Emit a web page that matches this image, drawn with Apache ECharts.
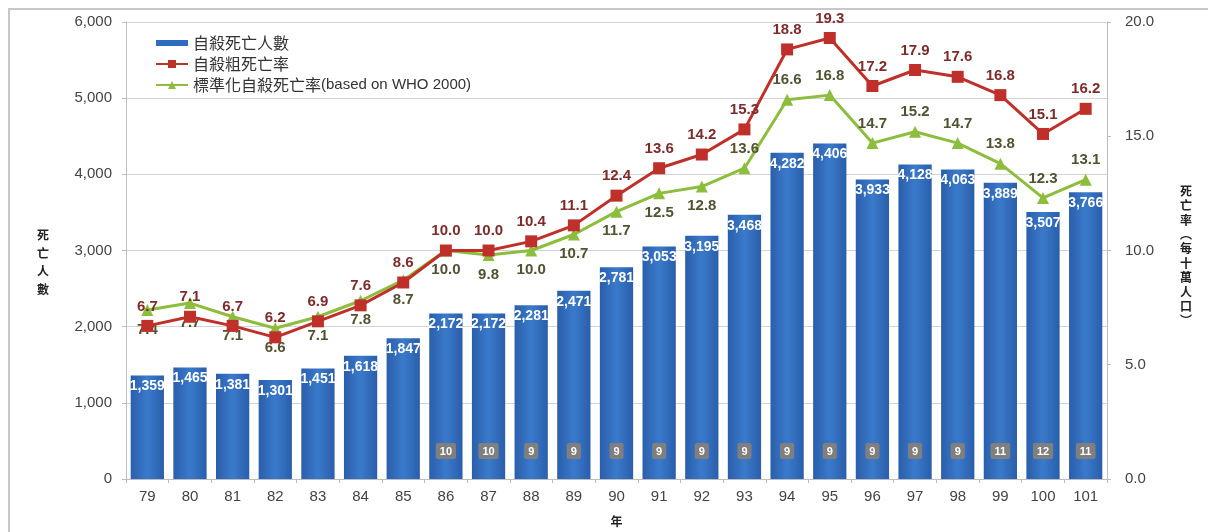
<!DOCTYPE html>
<html><head><meta charset="utf-8">
<script src="https://cdn.jsdelivr.net/npm/echarts@6/dist/echarts.min.js"></script>
<style>html,body{margin:0;padding:0;background:#fff}#c{width:1208px;height:532px}</style>
</head><body><div id="c"></div>
<script>
const years = ['79','80','81','82','83','84','85','86','87','88','89','90','91','92','93','94','95','96','97','98','99','100','101'];
const deaths = [1359,1465,1381,1301,1451,1618,1847,2172,2172,2281,2471,2781,3053,3195,3468,4282,4406,3933,4128,4063,3889,3507,3766];
const crudeRate = [6.7,7.1,6.7,6.2,6.9,7.6,8.6,10.0,10.0,10.4,11.1,12.4,13.6,14.2,15.3,18.8,19.3,17.2,17.9,17.6,16.8,15.1,16.2];
const stdRate = [7.4,7.7,7.1,6.6,7.1,7.8,8.7,10.0,9.8,10.0,10.7,11.7,12.5,12.8,13.6,16.6,16.8,14.7,15.2,14.7,13.8,12.3,13.1];
const ranks = [null,null,null,null,null,null,null,10,10,9,9,9,9,9,9,9,9,9,9,9,11,12,11];
const leftTicks = [0,1000,2000,3000,4000,5000,6000];
const rightTicks = [0,5,10,15,20];

const names = ['自殺死亡人數','自殺粗死亡率','標準化自殺死亡率(based on WHO 2000)'];
const FONT = '"Liberation Sans", Arial, sans-serif';
const CJK = '"Noto Sans CJK TC", sans-serif';

const chart = echarts.init(document.getElementById('c'), null, {renderer:'canvas'});
const barColor = {type:'linear',x:0,y:0,x2:1,y2:0,colorStops:[
  {offset:0,color:'#2a5eab'},{offset:0.5,color:'#3a7acb'},{offset:1,color:'#2a5eab'}]};

chart.setOption({
  animation:false,
  backgroundColor:'#fff',
  graphic:[
    {type:'rect',shape:{x:9,y:9,width:1260,height:560},style:{fill:'none',stroke:'#c8c8c8',lineWidth:2},silent:true,z:-1},
    {type:'text',left:37,top:226,style:{text:'死\n亡\n人\n數',font:'bold 12px '+CJK,fill:'#222',lineHeight:18}},
    {type:'text',left:1180,top:184,style:{text:'死\n亡\n率\n︵\n每\n十\n萬\n人\n口\n︶',font:'bold 12px '+CJK,fill:'#222',lineHeight:14.4}}
  ],
  legend:{
    orient:'vertical',left:150,top:30,itemGap:5,itemWidth:32,itemHeight:10,
    data:[{name:names[0],icon:'path://M0,0H32V6H0Z',itemStyle:{color:'#2f6cc0'}},{name:names[1]},{name:names[2]}],
    formatter:n=>{
      const i=n.indexOf('(');
      return i<0?'{c|'+n+'}':'{c|'+n.slice(0,i)+'}{l|'+n.slice(i)+'}';
    },
    textStyle:{color:'#333',rich:{
      c:{fontFamily:CJK,fontSize:16,color:'#333'},
      l:{fontFamily:FONT,fontSize:15,color:'#333'}}}
  },
  grid:{left:126,right:101,top:22,bottom:51},
  xAxis:{
    type:'category',data:years,boundaryGap:true,
    name:'年',nameLocation:'middle',nameGap:36,
    nameTextStyle:{fontFamily:CJK,fontSize:12,fontWeight:'bold',color:'#222'},
    axisLine:{lineStyle:{color:'#bdbdbd'}},
    axisTick:{show:true,length:4,lineStyle:{color:'#bdbdbd'}},
    axisLabel:{fontFamily:FONT,fontSize:15,color:'#444',margin:10}
  },
  yAxis:[{
    type:'value',min:leftTicks[0],max:leftTicks[leftTicks.length-1],interval:1000,
    axisLine:{show:true,lineStyle:{color:'#bdbdbd'}},
    axisTick:{show:true,length:4,lineStyle:{color:'#bdbdbd'}},
    splitLine:{lineStyle:{color:'#d4d4d4',width:1}},
    axisLabel:{fontFamily:FONT,fontSize:15,color:'#444',margin:14,
      formatter:v=>v.toLocaleString('en-US')}
  },{
    type:'value',min:rightTicks[0],max:rightTicks[rightTicks.length-1],interval:5,
    axisLine:{show:true,lineStyle:{color:'#bdbdbd'}},
    axisTick:{show:true,length:4,lineStyle:{color:'#bdbdbd'}},
    splitLine:{show:false},
    axisLabel:{fontFamily:FONT,fontSize:15,color:'#444',margin:18,formatter:v=>v.toFixed(1)}
  }],
  series:[
    {name:names[0],type:'bar',data:deaths,barCategoryGap:'22%',barGap:'-100%',
      itemStyle:{color:barColor},
      label:{show:true,position:'insideTop',distance:4,color:'#fff',fontFamily:FONT,fontWeight:'bold',fontSize:14,
        formatter:p=>p.value.toLocaleString('en-US')},z:2},
    {name:'rank',type:'bar',data:deaths.map((d,i)=>ranks[i]==null?'-':d),barCategoryGap:'22%',barGap:'-100%',
      itemStyle:{color:'rgba(0,0,0,0)'},
      label:{show:true,position:'insideBottom',distance:20,color:'#fff',fontFamily:FONT,fontWeight:'bold',fontSize:11,
        backgroundColor:'#7f7f7f',borderRadius:2,padding:[3,4,2,4],
        formatter:p=>String(ranks[p.dataIndex])},z:3},
    {name:names[1],type:'line',yAxisIndex:1,data:crudeRate,
      symbol:'rect',symbolSize:12,lineStyle:{color:'#c0302b',width:3},itemStyle:{color:'#c0302b'},
      label:{show:true,position:'top',distance:6,color:'#7d2b2b',fontFamily:FONT,fontWeight:'bold',fontSize:15,
        formatter:p=>p.value.toFixed(1)},z:5},
    {name:names[2],type:'line',yAxisIndex:1,
      data:stdRate.map((v,i)=>({value:v,label:{position:i>=14?'top':'bottom'}})),
      symbol:'triangle',symbolSize:12,lineStyle:{color:'#8cbd3c',width:3},itemStyle:{color:'#8cbd3c'},
      label:{show:true,distance:6,color:'#525233',fontFamily:FONT,fontWeight:'bold',fontSize:15,
        formatter:p=>Number(p.value).toFixed(1)},z:4}
  ]
});
</script></body></html>
